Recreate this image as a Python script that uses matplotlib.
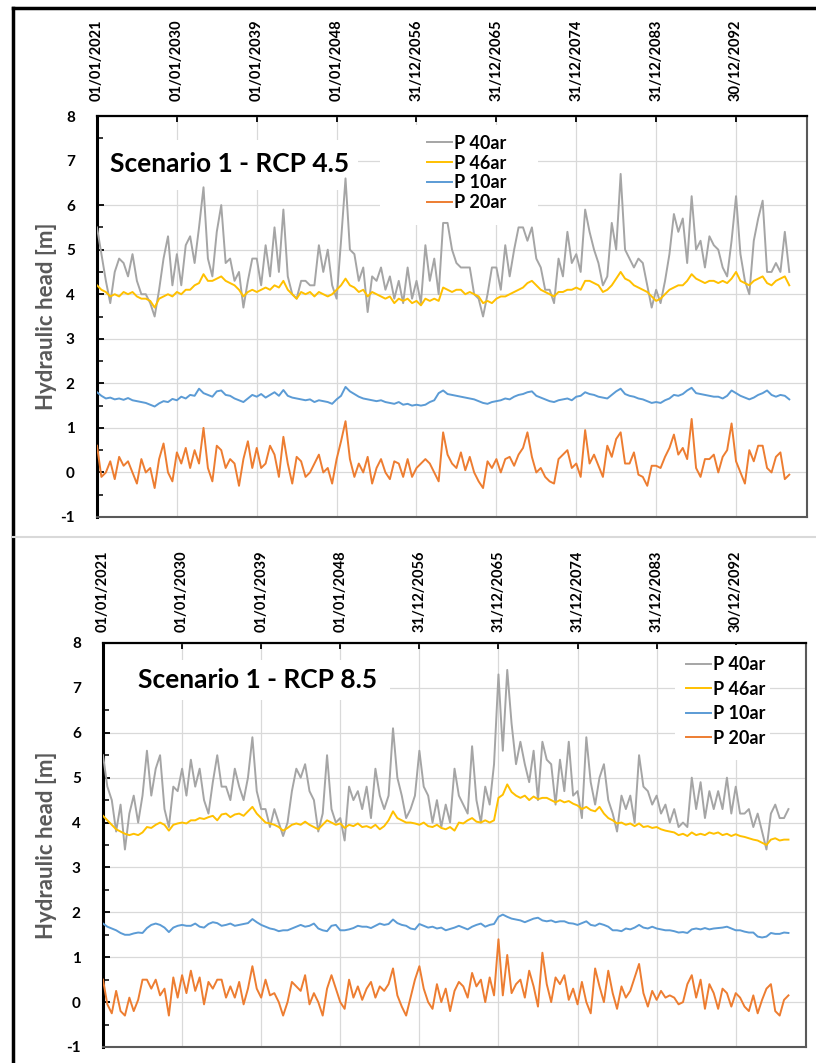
import pandas as pd
import matplotlib
matplotlib.use('Agg')
import matplotlib.pyplot as plt
import matplotlib.dates as mdates
from matplotlib.ticker import MultipleLocator, FixedLocator
from matplotlib.patches import Rectangle
from matplotlib.lines import Line2D

plt.rcParams['font.family'] = ['Lato', 'DejaVu Sans']
plt.rcParams['font.weight'] = 'bold'
plt.rcParams['axes.unicode_minus'] = False

# half-yearly samples, 2021-01 .. 2099-01
dates = pd.date_range('2021-01-01', periods=157, freq='6MS')
tick_dates = pd.date_range('2021-01-01', periods=9, freq='3287D')

series_names = ['P 40ar', 'P 46ar', 'P 10ar', 'P 20ar']
colors = ['#A5A5A5', '#FFC000', '#5B9BD5', '#ED7D31']

# ---- Scenario 1 - RCP 4.5
gray_45 = [5.5, 4.9, 4.3, 3.8, 4.5, 4.8, 4.7, 4.4, 4.9, 4.3,
           4.0, 4.0, 3.8, 3.5, 4.1, 4.8, 5.3, 4.2, 4.9, 4.2,
           5.1, 5.3, 4.7, 5.5, 6.4, 4.8, 4.4, 5.4, 6.0, 4.7,
           4.8, 4.3, 4.5, 3.7, 4.3, 4.8, 4.8, 4.2, 5.1, 4.4,
           5.5, 4.5, 5.9, 4.4, 4.0, 3.9, 4.3, 4.3, 4.2, 4.2,
           5.1, 4.5, 5.0, 4.2, 3.9, 5.2, 6.6, 5.0, 4.9, 4.3,
           4.6, 3.6, 4.4, 4.3, 4.6, 4.1, 4.4, 3.9, 4.3, 3.8,
           4.6, 3.9, 4.3, 3.8, 5.1, 4.3, 4.8, 4.0, 5.6, 5.6,
           5.0, 4.7, 4.6, 4.6, 4.6, 4.0, 3.9, 3.5, 4.0, 4.6,
           4.6, 4.1, 5.1, 4.4, 5.0, 5.5, 5.5, 5.2, 5.5, 4.8,
           4.6, 4.1, 4.1, 3.8, 4.8, 4.4, 5.4, 4.7, 4.9, 4.5,
           5.9, 5.4, 5.0, 4.7, 4.2, 4.4, 5.6, 5.0, 6.7, 5.0,
           4.8, 4.6, 4.8, 4.7, 4.2, 3.7, 4.1, 3.8, 4.3, 4.9,
           5.8, 5.4, 5.7, 4.7, 6.2, 5.0, 5.2, 4.6, 5.3, 5.1,
           5.0, 4.6, 4.4, 5.2, 6.2, 4.9, 4.3, 4.0, 5.2, 5.7,
           6.1, 4.5, 4.5, 4.7, 4.5, 5.4, 4.5]
yellow_45 = [4.2, 4.1, 4.05, 3.95, 4.0, 3.95, 4.05, 4.0, 4.05, 3.95,
             3.9, 3.9, 3.85, 3.7, 3.9, 3.95, 4.0, 3.95, 4.05, 4.0,
             4.1, 4.1, 4.2, 4.25, 4.45, 4.3, 4.3, 4.35, 4.4, 4.3,
             4.25, 4.2, 4.1, 3.95, 4.05, 4.1, 4.05, 4.1, 4.15, 4.1,
             4.2, 4.15, 4.3, 4.1, 4.0, 3.9, 4.05, 4.0, 4.05, 3.95,
             4.05, 4.0, 3.95, 4.0, 4.1, 4.2, 4.35, 4.2, 4.15, 4.05,
             4.1, 3.95, 4.05, 4.0, 3.95, 3.9, 3.95, 3.8, 3.9, 3.85,
             3.9, 3.8, 3.85, 3.75, 3.9, 3.85, 3.9, 3.85, 4.15, 4.1,
             4.05, 4.1, 4.1, 4.0, 4.05, 4.0, 3.95, 3.8, 3.85, 3.8,
             3.9, 3.95, 3.95, 4.0, 4.05, 4.1, 4.15, 4.25, 4.3, 4.2,
             4.1, 4.05, 4.0, 3.95, 4.05, 4.05, 4.1, 4.1, 4.15, 4.1,
             4.3, 4.3, 4.25, 4.2, 4.05, 4.1, 4.2, 4.35, 4.5, 4.35,
             4.3, 4.2, 4.15, 4.1, 4.05, 3.95, 3.85, 3.9, 4.0, 4.1,
             4.15, 4.2, 4.2, 4.3, 4.45, 4.35, 4.3, 4.25, 4.3, 4.3,
             4.25, 4.3, 4.25, 4.35, 4.5, 4.3, 4.25, 4.2, 4.3, 4.35,
             4.4, 4.25, 4.2, 4.3, 4.35, 4.4, 4.2]
blue_45 = [1.8, 1.72, 1.66, 1.68, 1.64, 1.66, 1.63, 1.67, 1.62, 1.6,
           1.58, 1.56, 1.52, 1.48, 1.55, 1.6, 1.58, 1.65, 1.62, 1.7,
           1.66, 1.74, 1.72, 1.88, 1.78, 1.74, 1.7, 1.82, 1.84, 1.74,
           1.72, 1.66, 1.62, 1.58, 1.66, 1.74, 1.7, 1.76, 1.68, 1.74,
           1.8, 1.72, 1.85, 1.72, 1.68, 1.66, 1.64, 1.62, 1.64, 1.58,
           1.62, 1.6, 1.58, 1.54, 1.64, 1.72, 1.92, 1.82, 1.76, 1.7,
           1.66, 1.64, 1.62, 1.6, 1.62, 1.58, 1.56, 1.54, 1.58, 1.52,
           1.54, 1.5, 1.52, 1.5, 1.52, 1.58, 1.62, 1.78, 1.84, 1.76,
           1.74, 1.72, 1.7, 1.68, 1.66, 1.64, 1.6, 1.56, 1.54, 1.58,
           1.6, 1.62, 1.66, 1.64, 1.7, 1.74, 1.76, 1.8, 1.82, 1.72,
           1.68, 1.64, 1.6, 1.58, 1.62, 1.64, 1.66, 1.62, 1.7, 1.72,
           1.8, 1.76, 1.74, 1.7, 1.68, 1.66, 1.74, 1.82, 1.88, 1.76,
           1.72, 1.7, 1.66, 1.64, 1.6, 1.56, 1.58, 1.56, 1.62, 1.66,
           1.74, 1.72, 1.76, 1.84, 1.9, 1.78, 1.76, 1.74, 1.72, 1.7,
           1.7, 1.66, 1.72, 1.84, 1.78, 1.72, 1.68, 1.64, 1.68, 1.74,
           1.78, 1.84, 1.74, 1.7, 1.74, 1.72, 1.64]
orange_45 = [0.6, -0.1, 0.0, 0.25, -0.15, 0.35, 0.15, 0.25, 0.0, -0.25,
             0.3, 0.0, 0.1, -0.35, 0.3, 0.65, 0.0, -0.2, 0.45, 0.2,
             0.55, 0.1, 0.5, 0.2, 1.0, 0.1, -0.2, 0.6, 0.5, 0.1,
             0.3, 0.2, -0.3, 0.3, 0.7, 0.1, 0.55, 0.1, 0.2, 0.6,
             0.4, -0.1, 0.8, 0.2, -0.25, 0.35, 0.25, -0.1, 0.0, 0.2,
             0.4, 0.0, 0.1, -0.25, 0.3, 0.7, 1.15, 0.3, -0.1, 0.2,
             0.0, 0.35, -0.25, 0.1, 0.3, 0.0, -0.15, 0.25, 0.2, -0.1,
             0.3, -0.1, 0.1, 0.2, 0.3, 0.2, 0.0, -0.2, 0.9, 0.4,
             0.2, 0.1, 0.45, 0.05, 0.35, 0.0, -0.2, -0.35, 0.25, 0.1,
             0.3, 0.0, 0.3, 0.35, 0.15, 0.4, 0.55, 0.9, 0.35, 0.0,
             0.1, -0.1, -0.2, -0.25, 0.3, 0.4, 0.5, 0.1, 0.2, -0.1,
             0.95, 0.2, 0.4, 0.15, -0.1, 0.6, 0.35, 0.75, 0.9, 0.2,
             0.2, 0.45, -0.05, -0.1, -0.3, 0.15, 0.15, 0.1, 0.35, 0.55,
             0.85, 0.4, 0.55, 0.3, 1.2, 0.1, -0.1, 0.3, 0.3, 0.4,
             0.0, 0.35, 0.5, 1.1, 0.25, 0.0, -0.25, 0.5, 0.25, 0.6,
             0.6, 0.1, 0.0, 0.35, 0.45, -0.15, -0.05]

# ---- Scenario 1 - RCP 8.5
gray_85 = [5.5, 4.8, 4.5, 3.8, 4.4, 3.4, 4.2, 4.6, 4.0, 4.6,
           5.6, 4.6, 5.2, 5.5, 4.3, 3.9, 4.8, 4.7, 5.2, 4.6,
           5.4, 4.8, 5.2, 4.5, 4.2, 4.9, 5.5, 4.8, 4.8, 4.5,
           5.2, 4.8, 4.5, 5.0, 5.9, 4.7, 4.3, 4.3, 3.9, 4.3,
           4.0, 3.7, 4.0, 4.7, 5.2, 5.0, 5.3, 4.7, 4.5, 3.8,
           4.2, 5.5, 4.3, 4.0, 4.1, 3.6, 4.8, 4.5, 4.7, 4.3,
           4.8, 4.1, 5.2, 4.6, 4.3, 4.6, 6.1, 5.0, 4.6, 4.1,
           4.3, 4.6, 5.6, 4.8, 4.6, 4.0, 4.5, 3.9, 4.4, 4.0,
           5.2, 4.6, 4.4, 4.2, 5.7, 4.5, 4.0, 4.8, 4.4, 5.3,
           7.3, 5.6, 7.4, 6.2, 5.3, 5.8, 5.3, 4.9, 5.6, 4.5,
           5.8, 5.4, 5.3, 4.4, 5.4, 4.7, 5.8, 4.6, 4.7, 4.1,
           5.9, 4.9, 4.4, 5.0, 5.3, 4.5, 4.2, 3.8, 4.6, 4.3,
           4.6, 4.0, 5.5, 4.8, 4.7, 4.4, 4.6, 4.2, 4.4, 4.0,
           4.3, 3.9, 4.0, 3.9, 5.0, 4.3, 4.9, 4.1, 4.7, 4.3,
           4.7, 4.3, 5.0, 4.2, 4.8, 4.2, 4.2, 4.3, 3.9, 4.2,
           3.8, 3.4, 4.2, 4.4, 4.1, 4.1, 4.3]
yellow_85 = [4.15, 4.05, 3.95, 3.85, 3.8, 3.75, 3.72, 3.75, 3.72, 3.78,
             3.9, 3.88, 3.95, 4.0, 3.95, 3.82, 3.95, 3.98, 4.0, 3.98,
             4.05, 4.05, 4.1, 4.08, 4.12, 4.15, 4.05, 4.18, 4.2, 4.12,
             4.18, 4.2, 4.15, 4.25, 4.35, 4.2, 4.1, 4.0, 3.98, 3.95,
             3.9, 3.82, 3.88, 3.95, 3.98, 3.95, 4.02, 3.95, 3.9, 3.85,
             3.95, 4.05, 4.0, 3.95, 3.98, 3.88, 3.95, 3.92, 3.98, 3.9,
             3.92, 3.88, 3.95, 3.85, 3.92, 4.05, 4.25, 4.1, 4.05, 4.0,
             4.0, 3.98, 3.95, 4.0, 3.92, 3.9, 3.95, 3.88, 3.85, 3.9,
             3.82, 4.0, 3.98, 4.05, 4.1, 4.02, 4.0, 4.05, 4.0, 4.05,
             4.55, 4.62, 4.85, 4.68, 4.6, 4.55, 4.6, 4.5, 4.58, 4.52,
             4.55, 4.55, 4.5, 4.45, 4.5, 4.45, 4.48, 4.42, 4.38, 4.3,
             4.35, 4.28, 4.25, 4.35, 4.2, 4.1, 4.05, 3.98, 4.0, 3.95,
             3.98, 3.92, 3.98, 3.9, 3.92, 3.88, 3.9, 3.85, 3.82, 3.8,
             3.78, 3.72, 3.75, 3.7, 3.78, 3.72, 3.75, 3.72, 3.78, 3.75,
             3.78, 3.72, 3.75, 3.7, 3.74, 3.7, 3.68, 3.65, 3.62, 3.6,
             3.55, 3.5, 3.62, 3.65, 3.6, 3.62, 3.62]
blue_85 = [1.75, 1.68, 1.64, 1.6, 1.54, 1.5, 1.5, 1.53, 1.55, 1.54,
           1.65, 1.72, 1.75, 1.72, 1.66, 1.56, 1.66, 1.7, 1.72, 1.7,
           1.7, 1.75, 1.68, 1.66, 1.74, 1.78, 1.76, 1.7, 1.72, 1.75,
           1.7, 1.72, 1.74, 1.76, 1.85, 1.78, 1.72, 1.68, 1.64, 1.62,
           1.58, 1.6, 1.6, 1.64, 1.68, 1.72, 1.68, 1.7, 1.75, 1.64,
           1.6, 1.58, 1.7, 1.72, 1.6, 1.6, 1.62, 1.65, 1.7, 1.68,
           1.68, 1.65, 1.7, 1.75, 1.72, 1.74, 1.84, 1.76, 1.72, 1.7,
           1.64, 1.62, 1.74, 1.7, 1.66, 1.68, 1.64, 1.66, 1.6, 1.63,
           1.66, 1.7, 1.66, 1.62, 1.68, 1.72, 1.75, 1.68, 1.72, 1.74,
           1.9, 1.95, 1.9, 1.86, 1.84, 1.82, 1.78, 1.82, 1.86, 1.88,
           1.82, 1.8, 1.82, 1.78, 1.8, 1.8, 1.76, 1.75, 1.72, 1.76,
           1.8, 1.72, 1.7, 1.75, 1.72, 1.68, 1.6, 1.6, 1.58, 1.64,
           1.62, 1.66, 1.72, 1.66, 1.64, 1.68, 1.64, 1.62, 1.6, 1.6,
           1.58, 1.55, 1.56, 1.54, 1.62, 1.64, 1.62, 1.65, 1.62, 1.64,
           1.65, 1.66, 1.68, 1.64, 1.6, 1.6, 1.57, 1.55, 1.55, 1.46,
           1.44, 1.46, 1.54, 1.52, 1.52, 1.55, 1.54]
orange_85 = [0.5, -0.05, -0.25, 0.25, -0.2, -0.3, 0.1, -0.2, 0.05, 0.5,
             0.5, 0.3, 0.5, 0.15, 0.3, -0.3, 0.55, 0.1, 0.6, 0.2,
             0.7, 0.25, 0.55, -0.05, 0.45, 0.3, 0.5, 0.5, 0.1, 0.35,
             0.1, 0.45, -0.05, 0.3, 0.8, 0.3, 0.1, 0.5, 0.15, 0.2,
             0.0, -0.3, 0.0, 0.45, 0.35, 0.25, 0.6, -0.05, 0.2, 0.0,
             -0.3, 0.3, 0.6, 0.3, 0.0, -0.15, 0.5, 0.1, 0.35, 0.05,
             0.3, 0.45, 0.1, 0.35, 0.25, 0.4, 0.75, 0.15, -0.1, -0.3,
             0.1, 0.5, 0.8, 0.3, 0.0, -0.15, 0.4, 0.0, 0.3, -0.2,
             0.25, 0.45, 0.35, 0.1, 0.65, 0.35, 0.5, 0.0, 0.55, 0.15,
             1.4, 0.15, 1.05, 0.2, 0.4, 0.5, 0.1, 0.7, 0.35, -0.1,
             1.1, 0.4, 0.0, 0.55, 0.4, 0.6, 0.05, 0.3, -0.05, 0.45,
             0.0, -0.25, 0.75, 0.35, 0.0, 0.7, 0.2, -0.15, 0.35, 0.1,
             0.25, 0.55, 0.85, 0.2, -0.1, 0.25, 0.05, 0.25, 0.1, 0.15,
             0.1, -0.05, 0.0, 0.4, 0.6, 0.1, 0.5, -0.15, 0.4, 0.2,
             -0.15, 0.3, 0.2, -0.1, 0.2, 0.1, -0.1, -0.2, 0.15, -0.25,
             0.05, 0.3, 0.4, -0.2, -0.3, 0.05, 0.15]

W, H = 816, 1063


def draw_panel(ax, values, title, title_pos, title_mask, legend_anchor,
               legend_mask, row_gap, tick_pad):
    lines = []
    for vals, col in zip(values, colors):
        ln, = ax.plot(dates, vals, color=col, lw=1.4, zorder=3)
        lines.append(ln)

    ax.set_xlim(pd.Timestamp('2021-01-01'), pd.Timestamp('2100-12-31'))
    ax.set_ylim(-1, 8)
    ax.xaxis.set_major_locator(FixedLocator(mdates.date2num(tick_dates)))
    ax.xaxis.set_major_formatter(mdates.DateFormatter('%d/%m/%Y'))
    ax.yaxis.set_major_locator(MultipleLocator(1))
    ax.yaxis.set_minor_locator(MultipleLocator(0.5))

    ax.xaxis.tick_top()
    ax.tick_params(axis='x', direction='in', length=4, width=1.3,
                   labelsize=10.5, pad=tick_pad)
    plt.setp(ax.get_xticklabels(), rotation=90)
    ax.tick_params(axis='y', which='major', direction='in', length=5,
                   width=1.3, labelsize=11, pad=16)
    ax.tick_params(axis='y', which='minor', direction='in', length=4,
                   width=1.1)

    ax.grid(True, color='#D9D9D9', lw=0.9)
    ax.set_axisbelow(True)

    ax.spines['left'].set_linewidth(2.2)
    ax.spines['top'].set_linewidth(1.6)
    for s in ['right', 'bottom']:
        ax.spines[s].set_color('#595959')
        ax.spines[s].set_linewidth(1.5)

    ax.set_ylabel('Hydraulic head [m]', fontsize=16, color='#595959',
                  fontweight='bold')

    # white boxes behind title / legend hide the gridlines like in Excel
    for m in (title_mask, legend_mask):
        ax.add_patch(Rectangle((m[0], m[1]), m[2] - m[0], m[3] - m[1],
                               transform=ax.transAxes, fc='white',
                               ec='none', zorder=1))

    ax.text(title_pos[0], title_pos[1], title, transform=ax.transAxes,
            fontsize=19, ha='left', va='center', zorder=5)

    ax.legend(lines, series_names, loc='upper left',
              bbox_to_anchor=legend_anchor, frameon=False, borderpad=0,
              handlelength=1.4, handletextpad=0.1, labelspacing=row_gap,
              fontsize=13)


fig = plt.figure(figsize=(W / 100, H / 100), dpi=100)

ax1 = fig.add_axes([97 / W, (H - 517) / H, 710 / W, 401 / H])
draw_panel(ax1, [gray_45, yellow_45, blue_45, orange_45],
           'Scenario 1 - RCP 4.5',
           title_pos=(0.018, 0.880),
           title_mask=(0.0, 0.815, 0.368, 0.94),
           legend_anchor=(0.452, 0.976),
           legend_mask=(0.399, 0.728, 0.621, 0.978),
           row_gap=0.16, tick_pad=11)
ax1.yaxis.set_label_coords(-0.056, 0.5)

ax2 = fig.add_axes([103 / W, (H - 1047) / H, 703 / W, 404 / H])
draw_panel(ax2, [gray_85, yellow_85, blue_85, orange_85],
           'Scenario 1 - RCP 8.5',
           title_pos=(0.050, 0.908),
           title_mask=(0.0, 0.859, 0.408, 0.958),
           legend_anchor=(0.8165, 0.99),
           legend_mask=(0.814, 0.71, 0.949, 0.995),
           row_gap=0.42, tick_pad=8)
ax2.yaxis.set_label_coords(-0.065, 0.5)

# outer frame and separator between the two charts
fig.add_artist(Line2D([13 / W, 13 / W], [0, 1 - 8 / H], color='black',
                      lw=2.5, transform=fig.transFigure))
fig.add_artist(Line2D([13 / W, 1.0], [1 - 8 / H, 1 - 8 / H], color='black',
                      lw=2.5, transform=fig.transFigure))
fig.add_artist(Line2D([13 / W, 1.0], [1 - 537 / H, 1 - 537 / H],
                      color='#D9D9D9', lw=1.5, transform=fig.transFigure))

fig.savefig('out.png', dpi=100)
